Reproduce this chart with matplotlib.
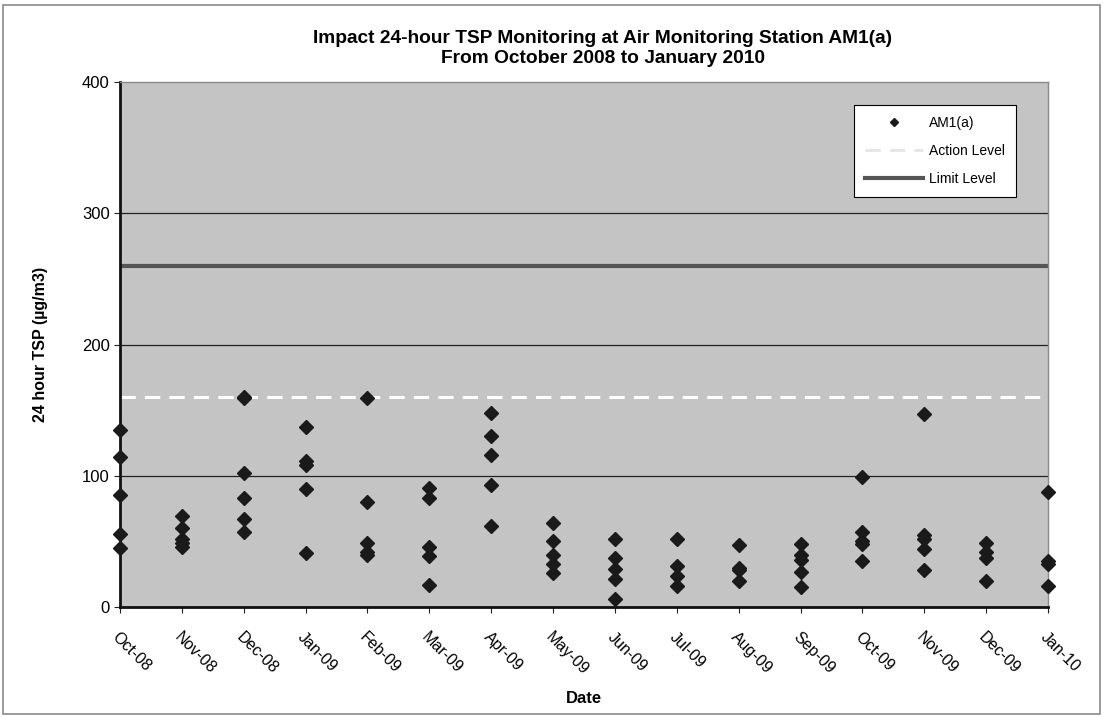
import matplotlib
matplotlib.use("Agg")
import matplotlib.pyplot as plt
from matplotlib.patches import Rectangle

plt.rcParams['font.family'] = ['Liberation Sans', 'DejaVu Sans']

months = ["Oct-08", "Nov-08", "Dec-08", "Jan-09", "Feb-09", "Mar-09", "Apr-09", "May-09",
          "Jun-09", "Jul-09", "Aug-09", "Sep-09", "Oct-09", "Nov-09", "Dec-09", "Jan-10"]

# 24-hour TSP readings, one list per month (ug/m3)
readings = [
    [135, 114, 85, 56, 45],
    [69, 60, 52, 49, 46],
    [160, 159, 102, 83, 67, 57],
    [137, 111, 108, 90, 41],
    [159, 80, 49, 42, 40],
    [91, 83, 46, 39, 17],
    [148, 130, 116, 93, 62],
    [64, 50, 40, 33, 26],
    [52, 37, 29, 21, 6],
    [52, 31, 24, 16],
    [47, 30, 28, 20],
    [48, 40, 36, 27, 15],
    [99, 57, 50, 48, 35],
    [147, 55, 52, 44, 28],
    [49, 42, 37, 20],
    [88, 35, 33, 16],
]

action_level = 160
limit_level = 260

fig = plt.figure(figsize=(11.06, 7.17), dpi=100)
ax = fig.add_axes([0.1085, 0.1534, 0.8391, 0.7322])
ax.set_facecolor("#c4c4c4")

fig.patches.append(Rectangle((0.003, 0.004), 0.992, 0.989, transform=fig.transFigure,
                             fill=False, edgecolor="#8a8a8a", linewidth=1.2))

for y in [100, 200, 300]:
    ax.axhline(y, color="#222222", linewidth=0.9, zorder=1)

ax.axhline(action_level, color="white", linestyle=(0, (5, 3)), linewidth=2.2, zorder=2, label="Action Level")
ax.axhline(limit_level, color="#555555", linewidth=3, zorder=2, label="Limit Level")

xs, ys = [], []
for i, vals in enumerate(readings):
    for v in vals:
        xs.append(i)
        ys.append(v)
ax.plot(xs, ys, linestyle="none", marker="D", markersize=7, color="#1a1a1a",
        zorder=5, clip_on=False, label="AM1(a)")

ax.set_xlim(0, len(months) - 1)
ax.set_ylim(0, 400)
ax.set_yticks([0, 100, 200, 300, 400])
ax.set_xticks(range(len(months)))
ax.set_xticklabels(months, rotation=-45, ha="left", va="top", rotation_mode="anchor", fontsize=11.5)
ax.tick_params(axis="y", labelsize=12, length=4, color="#222222")
ax.tick_params(axis="x", length=4, color="#222222", pad=12)

for s in ["top", "right"]:
    ax.spines[s].set_color("#8a8a8a")
    ax.spines[s].set_linewidth(1)
for s in ["left", "bottom"]:
    ax.spines[s].set_color("#111111")
    ax.spines[s].set_linewidth(2)

ax.set_ylabel("24 hour TSP (µg/m3)", fontsize=11.5, fontweight="bold", labelpad=24)
ax.set_xlabel("Date", fontsize=12, fontweight="bold", labelpad=10)

fig.text(0.545, 0.946, "Impact 24-hour TSP Monitoring at Air Monitoring Station AM1(a)",
         ha="center", va="center", fontsize=13.8, fontweight="bold")
fig.text(0.545, 0.919, "From October 2008 to January 2010",
         ha="center", va="center", fontsize=13.8, fontweight="bold")

handles, labels = ax.get_legend_handles_labels()
order = [2, 0, 1]
leg = ax.legend([handles[k] for k in order], [labels[k] for k in order],
                loc="upper right", bbox_to_anchor=(0.9655, 0.956), fontsize=10,
                frameon=True, fancybox=False, edgecolor="black", framealpha=1,
                handlelength=4.2, handletextpad=0.4, labelspacing=1.0,
                borderpad=0.8, borderaxespad=0, markerscale=0.6)
leg.get_frame().set_linewidth(0.8)
leg.get_lines()[1].set_color("#e6e6e6")

fig.savefig("out.png", dpi=100)
